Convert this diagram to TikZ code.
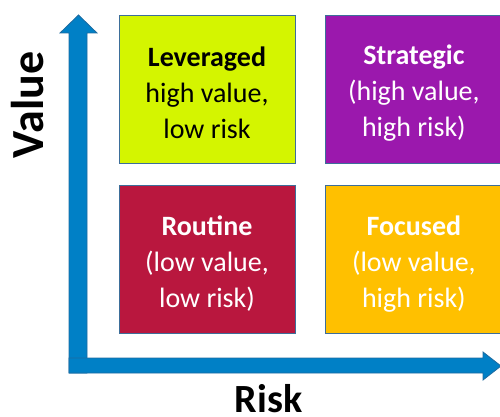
\documentclass[tikz,border=0pt]{standalone}
\usepackage{fontspec}
\setmainfont{Carlito}
\usetikzlibrary{positioning}

\definecolor{axisblue}{HTML}{0080C6}
\definecolor{axisline}{HTML}{1F6BA0}
\definecolor{boxline}{HTML}{3D6E99}
\definecolor{levgreen}{HTML}{D4F500}
\definecolor{stratpurple}{HTML}{9B18AD}
\definecolor{routred}{HTML}{B9173E}
\definecolor{focamber}{HTML}{FFC000}

% bold title plus two lines; the strut drops the block a little
\newcommand{\quadtext}[3]{\rule{0pt}{28pt}\textbf{#1}\\#2\\#3}

\begin{document}
\begin{tikzpicture}[x=1pt, y=-1pt, node distance=22pt and 30pt,
    quadrant/.style={draw=boxline, line width=0.9pt, minimum width=176pt,
        minimum height=148pt, inner sep=0pt, align=center,
        font=\fontsize{28}{36}\selectfont},
    axis/.style={fill=axisblue, draw=axisline, line width=0.8pt},
    axislabel/.style={anchor=base, inner sep=0pt, font=\bfseries}]
    \useasboundingbox (0,0) rectangle (500,417);

    % value axis, pointing up
    \draw[axis] (69,373) -- (69,33) -- (60,33) -- (78.5,15) -- (97,33)
        -- (87,33) -- (87,373) -- cycle;
    % risk axis, pointing right (drawn over the value axis)
    \draw[axis] (69,358) -- (483,358) -- (483,352) -- (501,366) -- (483,380)
        -- (483,373) -- (69,373) -- cycle;

    \node[axislabel, rotate=90, font=\bfseries\fontsize{46}{46}\selectfont]
        (value) at (43,105) {Value};
    \node[axislabel, font=\bfseries\fontsize{40}{40}\selectfont]
        (risk) at (268.5,412) {Risk};

    % the four quadrants
    \node[quadrant, fill=levgreen] (lev) at (207,89)
        {\quadtext{Leveraged}{high value,}{low risk}};
    \node[quadrant, fill=stratpurple, text=white, right=of lev] (strat)
        {\quadtext{Strategic}{(high value,}{high risk)}};
    \node[quadrant, fill=routred, text=white, below=of lev] (rout)
        {\quadtext{Routine}{(low value,}{low risk)}};
    \node[quadrant, fill=focamber, text=white, below=of strat] (foc)
        {\quadtext{Focused}{(low value,}{high risk)}};
\end{tikzpicture}
\end{document}
